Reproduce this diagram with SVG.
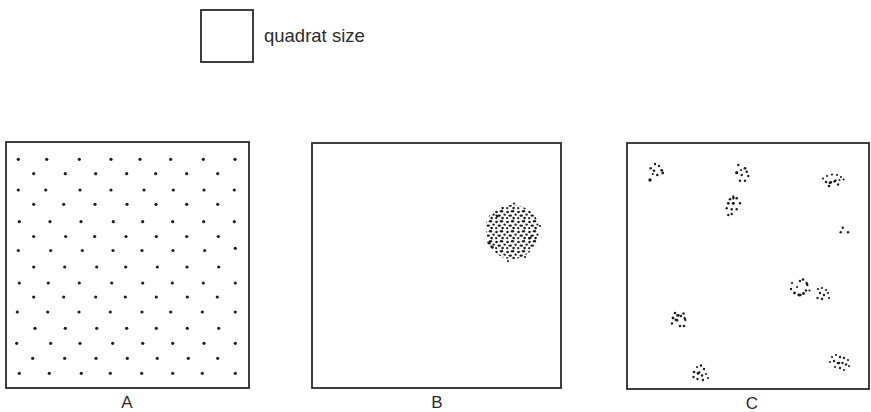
<svg xmlns="http://www.w3.org/2000/svg" width="871" height="412" viewBox="0 0 871 412">
  <style>
    .frame { fill: none; stroke: #2b2b2b; stroke-width: 1.8; }
    .lbl { font-family: "Liberation Sans", Arial, sans-serif; fill: #2b2b2b; }
    .d { fill: #1e1e1e; }
    .grid circle { r: 1.6px; }
  </style>
  <defs>
    <!-- irregular stipple used for the dense clump -->
    <pattern id="stipple" patternUnits="userSpaceOnUse" width="11" height="10">
      <circle cx="1.5" cy="2" r="1.3" fill="#1e1e1e"/>
      <ellipse cx="6.5" cy="1.2" rx="1.7" ry="1.2" fill="#1e1e1e"/>
      <circle cx="9.6" cy="4.6" r="1.2" fill="#1e1e1e"/>
      <ellipse cx="4.2" cy="5.6" rx="1.8" ry="1.2" fill="#1e1e1e"/>
      <circle cx="1.2" cy="8.2" r="1.1" fill="#1e1e1e"/>
      <circle cx="7.6" cy="8.1" r="1.3" fill="#1e1e1e"/>
    </pattern>
  </defs>

  <rect width="871" height="412" fill="#ffffff"/>

  <!-- legend -->
  <g id="legend">
    <rect class="frame" x="201" y="10" width="52" height="52"/>
    <text class="lbl" x="264" y="42" font-size="18.5">quadrat size</text>
  </g>

  <!-- A: regular spacing -->
  <g id="panel-A">
    <rect class="frame" x="6" y="142" width="243" height="246"/>
    <g class="d grid">
      <circle cx="18.3" cy="159.3" r="1.6"/><circle cx="46.7" cy="159.3" r="1.6"/><circle cx="79.3" cy="159.3" r="1.6"/><circle cx="111" cy="159.3" r="1.6"/><circle cx="140" cy="159.3" r="1.6"/><circle cx="170.7" cy="159.3" r="1.6"/><circle cx="203.3" cy="159.3" r="1.6"/><circle cx="235" cy="159.3" r="1.6"/>
      <circle cx="33.7" cy="173.7" r="1.6"/><circle cx="65.3" cy="173.7" r="1.6"/><circle cx="95.7" cy="173.7" r="1.6"/><circle cx="126.7" cy="173.7" r="1.6"/><circle cx="155.7" cy="173.7" r="1.6"/><circle cx="186.7" cy="173.7" r="1.6"/><circle cx="217.7" cy="173.7" r="1.6"/>
      <circle cx="18.3" cy="190" r="1.6"/><circle cx="45.7" cy="190" r="1.6"/><circle cx="80" cy="190" r="1.6"/><circle cx="111" cy="190" r="1.6"/><circle cx="144" cy="190" r="1.6"/><circle cx="173.3" cy="190" r="1.6"/><circle cx="204" cy="190" r="1.6"/><circle cx="234.3" cy="190" r="1.6"/>
      <circle cx="33.7" cy="204.3" r="1.6"/><circle cx="63.7" cy="204.3" r="1.6"/><circle cx="95" cy="204.3" r="1.6"/><circle cx="127" cy="204.3" r="1.6"/><circle cx="156" cy="204.3" r="1.6"/><circle cx="186.7" cy="204.3" r="1.6"/><circle cx="217.7" cy="204.3" r="1.6"/>
      <circle cx="19.3" cy="221.7" r="1.6"/><circle cx="50" cy="221.7" r="1.6"/><circle cx="81" cy="221.7" r="1.6"/><circle cx="113.3" cy="221.7" r="1.6"/><circle cx="142.7" cy="221.7" r="1.6"/><circle cx="172.7" cy="221.7" r="1.6"/><circle cx="203.7" cy="221.7" r="1.6"/><circle cx="234.3" cy="221.7" r="1.6"/>
      <circle cx="33.7" cy="236.5" r="1.6"/><circle cx="65.7" cy="236.5" r="1.6"/><circle cx="94.7" cy="236.5" r="1.6"/><circle cx="126" cy="236.5" r="1.6"/><circle cx="156.3" cy="236.5" r="1.6"/><circle cx="186.7" cy="236.5" r="1.6"/><circle cx="218.3" cy="236.5" r="1.6"/>
      <circle cx="18.3" cy="250.5" r="1.6"/><circle cx="50.7" cy="250.5" r="1.6"/><circle cx="82.3" cy="250.5" r="1.6"/><circle cx="113" cy="250.5" r="1.6"/><circle cx="142" cy="250.5" r="1.6"/><circle cx="173" cy="250.5" r="1.6"/><circle cx="204.7" cy="250.5" r="1.6"/><circle cx="235.3" cy="248.3" r="1.6"/>
      <circle cx="33.7" cy="267" r="1.6"/><circle cx="64.7" cy="267" r="1.6"/><circle cx="96.7" cy="267" r="1.6"/><circle cx="125.7" cy="267" r="1.6"/><circle cx="157.3" cy="267" r="1.6"/><circle cx="187" cy="267" r="1.6"/><circle cx="218.7" cy="267" r="1.6"/>
      <circle cx="19.3" cy="283" r="1.6"/><circle cx="48.3" cy="283" r="1.6"/><circle cx="79.3" cy="283" r="1.6"/><circle cx="111.7" cy="283" r="1.6"/><circle cx="142.7" cy="283" r="1.6"/><circle cx="172.3" cy="283" r="1.6"/><circle cx="203.3" cy="283" r="1.6"/><circle cx="235.3" cy="283" r="1.6"/>
      <circle cx="33.7" cy="297" r="1.6"/><circle cx="63.7" cy="297" r="1.6"/><circle cx="95.7" cy="297" r="1.6"/><circle cx="125.3" cy="297" r="1.6"/><circle cx="156.3" cy="297" r="1.6"/><circle cx="187.3" cy="297" r="1.6"/><circle cx="217.3" cy="297" r="1.6"/>
      <circle cx="17.3" cy="312" r="1.6"/><circle cx="47.7" cy="312" r="1.6"/><circle cx="79" cy="312" r="1.6"/><circle cx="110.3" cy="312" r="1.6"/><circle cx="142" cy="312" r="1.6"/><circle cx="170.7" cy="312" r="1.6"/><circle cx="202.3" cy="312" r="1.6"/><circle cx="235.3" cy="312" r="1.6"/>
      <circle cx="35" cy="328.3" r="1.6"/><circle cx="65.3" cy="328.3" r="1.6"/><circle cx="96.7" cy="328.3" r="1.6"/><circle cx="126.7" cy="328.3" r="1.6"/><circle cx="156.3" cy="328.3" r="1.6"/><circle cx="187.3" cy="328.3" r="1.6"/><circle cx="218.7" cy="328.3" r="1.6"/>
      <circle cx="16.7" cy="343.3" r="1.6"/><circle cx="50.7" cy="343.3" r="1.6"/><circle cx="80" cy="343.3" r="1.6"/><circle cx="112.7" cy="343.3" r="1.6"/><circle cx="142.7" cy="343.3" r="1.6"/><circle cx="172.7" cy="343.3" r="1.6"/><circle cx="204" cy="343.3" r="1.6"/><circle cx="235.3" cy="343.3" r="1.6"/>
      <circle cx="32.7" cy="358.3" r="1.6"/><circle cx="64.7" cy="358.3" r="1.6"/><circle cx="96" cy="358.3" r="1.6"/><circle cx="127.3" cy="358.3" r="1.6"/><circle cx="157.3" cy="358.3" r="1.6"/><circle cx="188.3" cy="358.3" r="1.6"/><circle cx="217.7" cy="358.3" r="1.6"/>
      <circle cx="19.3" cy="373.3" r="1.6"/><circle cx="49.3" cy="373.3" r="1.6"/><circle cx="81.3" cy="373.3" r="1.6"/><circle cx="110.3" cy="373.3" r="1.6"/><circle cx="141.7" cy="373.3" r="1.6"/><circle cx="172.7" cy="373.3" r="1.6"/><circle cx="202.3" cy="373.3" r="1.6"/><circle cx="235.3" cy="373.3" r="1.6"/>
    </g>
    <text class="lbl" x="127" y="408" font-size="17" text-anchor="middle">A</text>
  </g>

  <!-- B: one dense clump -->
  <g id="panel-B">
    <rect class="frame" x="312" y="143" width="249" height="245"/>
    <path d="M486,229 C485,214 497,206 511,205 C526,205 539,214 539,229 C539,244 530,257 515,259 C499,261 487,248 486,229 Z" fill="url(#stipple)"/>
    <g class="d">
      <circle cx="514" cy="203.5" r="1.1"/>
      <ellipse cx="489" cy="243" rx="2" ry="1.3" transform="rotate(30 489 243)"/>
      <ellipse cx="492" cy="247" rx="2" ry="1.3" transform="rotate(30 492 247)"/>
      <ellipse cx="497" cy="216" rx="1.8" ry="1.2" transform="rotate(40 497 216)"/>
      <ellipse cx="530" cy="238" rx="2" ry="1.2" transform="rotate(-20 530 238)"/>
      <circle cx="525" cy="257" r="1.1"/>
      <circle cx="508" cy="261" r="1.1"/>
      <circle cx="540" cy="226" r="1.1"/>
    </g>
    <text class="lbl" x="437" y="408" font-size="17" text-anchor="middle">B</text>
  </g>

  <!-- C: many small clumps -->
  <g id="panel-C">
    <rect class="frame" x="627" y="143" width="242" height="246"/>
    <g class="d">
      <!-- clump 1 -->
      <circle cx="655" cy="164" r="1.2"/><circle cx="659" cy="166" r="1.2"/><circle cx="650.7" cy="168.3" r="1.2"/><circle cx="654" cy="170.7" r="1.3"/><circle cx="661.7" cy="170.3" r="1.4"/><circle cx="662.7" cy="173" r="1.4"/><circle cx="657.3" cy="175" r="1.3"/><circle cx="652.7" cy="174" r="1.1"/><circle cx="650" cy="180" r="1.7"/>
      <!-- clump 2 -->
      <circle cx="738.3" cy="165" r="1.2"/><circle cx="745" cy="168.3" r="1.4"/><circle cx="736.7" cy="172.7" r="1.6"/><circle cx="741.7" cy="175" r="1.2"/><circle cx="748.3" cy="176" r="1.2"/><circle cx="740" cy="180.7" r="1.2"/><circle cx="745" cy="180.7" r="1.2"/><circle cx="746.7" cy="171.7" r="1.3"/><circle cx="741" cy="170" r="1.1"/>
      <!-- clump 3 -->
      <circle cx="823" cy="178.5" r="1.1"/><circle cx="827" cy="176" r="1.1"/><circle cx="832" cy="174.5" r="1.1"/><circle cx="837" cy="175" r="1.1"/><circle cx="841" cy="177" r="1.1"/><circle cx="843.5" cy="179.5" r="1.1"/><circle cx="826" cy="182" r="1.3"/><ellipse cx="830.5" cy="182.5" rx="2" ry="1.3" transform="rotate(-30 830.5 182.5)"/><ellipse cx="835" cy="181" rx="2" ry="1.3" transform="rotate(-40 835 181)"/><circle cx="838" cy="184.5" r="1.2"/><circle cx="829" cy="186" r="1.3"/><circle cx="839.5" cy="180" r="1.1"/>
      <!-- clump 4 -->
      <ellipse cx="733.3" cy="197.5" rx="1.2" ry="2.3"/><circle cx="730" cy="199.3" r="1.3"/><circle cx="736.7" cy="198.3" r="1.3"/><circle cx="728.3" cy="203.3" r="1.4"/><circle cx="733.3" cy="203.3" r="1.5"/><circle cx="740" cy="203.3" r="1.2"/><circle cx="726.7" cy="208.3" r="1.2"/><circle cx="731.7" cy="209.3" r="1.2"/><circle cx="736.7" cy="209.3" r="1.2"/><circle cx="728.3" cy="215" r="1.2"/><circle cx="731.7" cy="214" r="1.2"/>
      <!-- clump 5 -->
      <circle cx="842.7" cy="227.7" r="1.2"/><circle cx="840.7" cy="232.3" r="1.2"/><circle cx="848" cy="232.3" r="1.2"/>
      <!-- clump 6 -->
      <circle cx="792" cy="283" r="1.1"/><circle cx="791" cy="289" r="1.2"/><circle cx="794.5" cy="293" r="1.4"/><ellipse cx="799.5" cy="295" rx="2.3" ry="1.4"/><circle cx="803.5" cy="293.5" r="1.4"/><circle cx="806" cy="290.5" r="1.2"/><circle cx="800" cy="281" r="1.2"/><circle cx="803" cy="279.5" r="1.3"/><ellipse cx="807" cy="284" rx="1.3" ry="2.3" transform="rotate(-20 807 284)"/><circle cx="797" cy="287" r="1.1"/><circle cx="809.5" cy="290.5" r="1.1"/>
      <!-- clump 7 -->
      <circle cx="818" cy="289" r="1.1"/><circle cx="822" cy="288" r="1.1"/><circle cx="826" cy="290" r="1.1"/><circle cx="820" cy="293" r="1.2"/><circle cx="824" cy="295" r="1.2"/><circle cx="828" cy="293" r="1.1"/><circle cx="817.5" cy="298" r="1.2"/><circle cx="822" cy="299" r="1.2"/><circle cx="829" cy="298" r="1.1"/>
      <!-- clump 8 -->
      <circle cx="675" cy="313" r="1.3"/><ellipse cx="678" cy="315.5" rx="1.9" ry="1.4"/><circle cx="673" cy="318" r="1.4"/><ellipse cx="676.5" cy="320" rx="2.1" ry="1.4" transform="rotate(20 676.5 320)"/><circle cx="681" cy="316" r="1.2"/><circle cx="683.5" cy="313.5" r="1.2"/><ellipse cx="685" cy="319" rx="1.2" ry="2.4" transform="rotate(-15 685 319)"/><circle cx="672" cy="323.5" r="1.2"/><circle cx="680" cy="326" r="1.3"/><circle cx="684" cy="326" r="1.3"/>
      <!-- clump 9 -->
      <circle cx="697" cy="367" r="1.1"/><circle cx="701" cy="365.5" r="1.2"/><circle cx="704" cy="369" r="1.2"/><circle cx="694" cy="372" r="1.3"/><ellipse cx="698.5" cy="373" rx="2.1" ry="1.3" transform="rotate(-30 698.5 373)"/><circle cx="702" cy="375.5" r="1.3"/><circle cx="706" cy="374" r="1.1"/><circle cx="693.5" cy="377" r="1.2"/><circle cx="697.5" cy="379" r="1.2"/><circle cx="703" cy="380" r="1.2"/><circle cx="708" cy="378" r="1.1"/>
      <!-- clump 10 -->
      <circle cx="832" cy="357" r="1.1"/><circle cx="836" cy="355" r="1.1"/><circle cx="840" cy="357" r="1.2"/><circle cx="844" cy="358" r="1.2"/><circle cx="848" cy="360" r="1.1"/><circle cx="830" cy="362" r="1.1"/><circle cx="834" cy="361" r="1.2"/><ellipse cx="838.5" cy="363" rx="1.9" ry="1.2"/><circle cx="842.5" cy="363" r="1.2"/><circle cx="846" cy="364.5" r="1.2"/><circle cx="849" cy="366" r="1.1"/><circle cx="835" cy="367" r="1.1"/><circle cx="840" cy="368" r="1.2"/><circle cx="844" cy="370" r="1.1"/>
    </g>
    <text class="lbl" x="752" y="409" font-size="17" text-anchor="middle">C</text>
  </g>
</svg>
